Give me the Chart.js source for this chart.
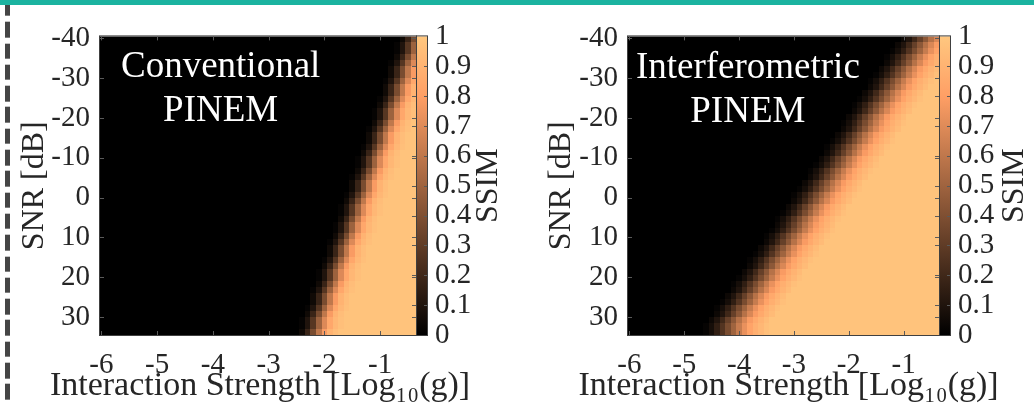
<!DOCTYPE html>
<html>
<head>
<meta charset="utf-8">
<title>SSIM maps</title>
<script src="https://cdn.jsdelivr.net/npm/chart.js@4.4.1/dist/chart.umd.min.js"></script>
<style>
  body { margin: 0; background: #fff; }
  #wrap { position: relative; width: 1034px; height: 405px; overflow: hidden; background: #fff; }
  #wrap canvas { position: absolute; top: 0; }
  #topBar { position: absolute; left: 0; top: 0; width: 1034px; height: 5px; background: #1bb3a0; z-index: 2; }
  #sep {
    position: absolute; left: 5px; top: 0; width: 5px; height: 405px; z-index: 1;
    background: repeating-linear-gradient(to bottom, #454545 0 15.5px, transparent 15.5px 21.3px);
    background-position: 0 0.7px;
  }
</style>
</head>
<body>
<div id="wrap">
  <canvas id="conventional" width="520" height="405" style="left:0"></canvas>
  <canvas id="interferometric" width="514" height="405" style="left:520px"></canvas>
  <div id="sep"></div>
  <div id="topBar"></div>
</div>
<script>
// columns: log10(g), rows: SNR in dB
const logG = [-6, -5.9, -5.8, -5.7, -5.6, -5.5, -5.4, -5.3, -5.2, -5.1,
  -5, -4.9, -4.8, -4.7, -4.6, -4.5, -4.4, -4.3, -4.2, -4.1,
  -4, -3.9, -3.8, -3.7, -3.6, -3.5, -3.4, -3.3, -3.2, -3.1,
  -3, -2.9, -2.8, -2.7, -2.6, -2.5, -2.4, -2.3, -2.2, -2.1,
  -2, -1.9, -1.8, -1.7, -1.6, -1.5, -1.4, -1.3, -1.2, -1.1,
  -1, -0.9, -0.8, -0.7, -0.6, -0.5, -0.4];
const snrRows = [-39.75, -38.25, -36.75, -35.25, -33.75, -32.25, -30.75, -29.25, -27.75, -26.25,
  -24.75, -23.25, -21.75, -20.25, -18.75, -17.25, -15.75, -14.25, -12.75, -11.25,
  -9.75, -8.25, -6.75, -5.25, -3.75, -2.25, -0.75, 0.75, 2.25, 3.75,
  5.25, 6.75, 8.25, 9.75, 11.25, 12.75, 14.25, 15.75, 17.25, 18.75,
  20.25, 21.75, 23.25, 24.75, 26.25, 27.75, 29.25, 30.75, 32.25, 33.75];

// per row: black cells from the left, then one of two edge ramps (SSIM in %),
// the rest of the row sits on the plateau
const convDark = [53, 53, 53, 52, 52, 51, 51, 51, 50, 50,
  50, 49, 49, 49, 48, 48, 47, 47, 47, 46,
  46, 46, 45, 45, 44, 44, 44, 43, 43, 43,
  42, 42, 42, 41, 41, 40, 40, 40, 39, 39,
  39, 38, 38, 37, 37, 37, 36, 36, 36, 35];
const convShape = 'ABBABAABAA' + 'BABBABAABA' + 'BBABAABABB' + 'ABBABAABAB' + 'BABAABABBA';
const convRampA = [0, 5, 18, 38, 60, 78, 90, 95];
const convRampB = [2, 10, 27, 49, 69, 84, 92, 96];

const interDark = [50, 49, 48, 47, 47, 46, 45, 44, 44, 43,
  42, 41, 41, 40, 39, 39, 38, 37, 36, 36,
  35, 34, 33, 33, 32, 31, 30, 30, 29, 28,
  27, 27, 26, 25, 25, 24, 23, 22, 22, 21,
  20, 19, 19, 18, 17, 16, 16, 15, 14, 14];
const interShape = 'AABBAABBAA' + 'BBAABAABBA' + 'ABBAABBAAB' + 'BABBAABBAA' + 'BBAABBAABB';
const interRampA = [4, 10, 20, 32, 44, 57, 68, 78, 85, 90, 94];
const interRampB = [2, 7, 15, 26, 38, 50, 62, 73, 82, 88, 92, 96];
const ssimPlateau = 98;

const xTicks = [-6, -5, -4, -3, -2, -1];
const yTicks = [-40, -30, -20, -10, 0, 10, 20, 30];
const cbTicks = [0, 0.1, 0.2, 0.3, 0.4, 0.5, 0.6, 0.7, 0.8, 0.9, 1];

const ink = '#262626';
const serif = "'Liberation Serif', 'DejaVu Serif', serif";
Chart.defaults.font.family = serif;
Chart.defaults.color = ink;

function copper(v) {
  const r = Math.min(1, 1.25 * v), g = 0.7812 * v, b = 0.4975 * v;
  return 'rgb(' + Math.round(r * 255) + ',' + Math.round(g * 255) + ',' + Math.round(b * 255) + ')';
}

function buildCells(dark, shape, rampA, rampB) {
  const cells = [];
  snrRows.forEach((snr, r) => {
    const ramp = shape[r] === 'A' ? rampA : rampB;
    logG.forEach((g, c) => {
      let v;
      if (c < dark[r]) v = 0;
      else if (c - dark[r] < ramp.length) v = ramp[c - dark[r]];
      else v = ssimPlateau;
      cells.push({ x: g, y: snr, v: v / 100 });
    });
  });
  return cells;
}

const halfX = (logG[1] - logG[0]) / 2;
const halfY = (snrRows[1] - snrRows[0]) / 2;

const heatPlugin = {
  id: 'heat',
  beforeDatasetsDraw(chart) {
    const { ctx, chartArea: a, scales: { x, y } } = chart;
    const cells = chart.data.datasets[0].data;
    ctx.save();
    ctx.beginPath();
    ctx.rect(a.left, a.top, a.width, a.height);
    ctx.clip();
    cells.forEach(d => {
      const x0 = Math.round(x.getPixelForValue(d.x - halfX));
      const x1 = Math.round(x.getPixelForValue(d.x + halfX));
      const y0 = Math.round(y.getPixelForValue(d.y - halfY));
      const y1 = Math.round(y.getPixelForValue(d.y + halfY));
      ctx.fillStyle = copper(d.v);
      ctx.fillRect(Math.min(x0, x1), Math.min(y0, y1), Math.abs(x1 - x0), Math.abs(y1 - y0));
    });
    ctx.restore();
  }
};

function decoPlugin(cfg) {
  return {
    id: 'deco',
    afterDatasetsDraw(chart) {
      const { ctx, chartArea: a, scales: { x, y, cb } } = chart;
      ctx.save();
      // panel name
      ctx.fillStyle = '#fff';
      ctx.font = '37px ' + serif;
      ctx.textAlign = 'center';
      ctx.textBaseline = 'alphabetic';
      cfg.lines.forEach((t, i) => {
        ctx.fillText(t, x.getPixelForValue(cfg.noteX), y.getPixelForValue(cfg.noteY[i]));
      });

      // colorbar
      const sx = a.right + 1, sw = 10;
      const cTop = cb.getPixelForValue(1), cBot = cb.getPixelForValue(0);
      const grad = ctx.createLinearGradient(0, cBot, 0, cTop);
      grad.addColorStop(0, copper(0));
      grad.addColorStop(0.8, copper(0.8));
      grad.addColorStop(1, copper(1));
      ctx.fillStyle = grad;
      ctx.fillRect(sx, cTop, sw, cBot - cTop);

      ctx.strokeStyle = '#404040';
      ctx.lineWidth = 1;
      ctx.strokeRect(a.left - 0.5, a.top - 0.5, a.width + 1, a.height + 1);
      ctx.strokeRect(sx - 0.5, cTop - 0.5, sw + 1, cBot - cTop + 1);

      // inward ticks
      ctx.strokeStyle = '#5a5a5a';
      ctx.beginPath();
      xTicks.forEach(v => {
        const px = Math.round(x.getPixelForValue(v)) + 0.5;
        ctx.moveTo(px, a.bottom); ctx.lineTo(px, a.bottom - 4);
        ctx.moveTo(px, a.top); ctx.lineTo(px, a.top + 4);
      });
      yTicks.forEach(v => {
        const py = Math.round(y.getPixelForValue(v)) + 0.5;
        ctx.moveTo(a.left, py); ctx.lineTo(a.left + 4, py);
        ctx.moveTo(a.right, py); ctx.lineTo(a.right - 4, py);
      });
      cbTicks.slice(1, -1).forEach(v => {
        const py = Math.round(cb.getPixelForValue(v)) + 0.5;
        ctx.moveTo(a.right, py); ctx.lineTo(a.right - 4, py);
        ctx.moveTo(sx + sw, py); ctx.lineTo(sx + sw - 3, py);
      });
      ctx.stroke();

      // x axis title (drawn here so it is not squeezed to the axis width)
      ctx.fillStyle = ink;
      ctx.font = '34px ' + serif;
      ctx.textAlign = 'center';
      ctx.textBaseline = 'alphabetic';
      ctx.fillText('Interaction Strength [Log₁₀(g)]', (a.left + a.right) / 2 + cfg.xTitleShift, a.bottom + 60);

      // colorbar label
      ctx.font = '32px ' + serif;
      ctx.textBaseline = 'middle';
      ctx.translate(sx + sw + cfg.ssimGap, (cTop + cBot) / 2);
      ctx.rotate(-Math.PI / 2);
      ctx.fillText('SSIM', 0, 0);
      ctx.restore();
    }
  };
}

function makePanel(id, cells, cfg) {
  return new Chart(document.getElementById(id), {
    type: 'scatter',
    data: { datasets: [{ data: cells, pointRadius: 0, pointHoverRadius: 0 }] },
    options: {
      responsive: false,
      animation: false,
      devicePixelRatio: 1,
      events: [],
      layout: { padding: { top: 24, left: 0, right: 0, bottom: 0 } },
      plugins: { legend: { display: false }, tooltip: { enabled: false } },
      scales: {
        x: {
          type: 'linear', position: 'bottom', min: -6.025, max: -0.355,
          afterBuildTicks: s => { s.ticks = xTicks.map(v => ({ value: v })); },
          afterFit: s => { s.height = 70; },
          grid: { display: false, drawTicks: false },
          border: { display: false },
          ticks: { padding: 13, autoSkip: false, maxRotation: 0, font: { size: 29 }, color: ink,
                   callback: v => String(v) }
        },
        y: {
          type: 'linear', position: 'left', reverse: true, min: -40.5, max: 34.5,
          afterBuildTicks: s => { s.ticks = yTicks.map(v => ({ value: v })); },
          afterFit: s => { s.width = cfg.yWidth; },
          grid: { display: false, drawTicks: false },
          border: { display: false },
          ticks: { padding: 10, autoSkip: false, font: { size: 29 }, color: ink,
                   callback: v => String(v) },
          title: { display: true, text: 'SNR [dB]', color: ink,
                   font: { size: 32 }, padding: { top: cfg.yTitlePad, bottom: 0 } }
        },
        cb: {
          type: 'linear', position: 'right', min: 0, max: 1,
          afterBuildTicks: s => { s.ticks = cbTicks.map(v => ({ value: v })); },
          afterFit: s => { s.width = cfg.cbWidth; },
          grid: { display: false, drawTicks: false },
          border: { display: false },
          ticks: { padding: 19, autoSkip: false, font: { size: 29 }, color: ink,
                   callback: v => String(v) }
        }
      }
    },
    plugins: [heatPlugin, decoPlugin(cfg)]
  });
}

makePanel('conventional', buildCells(convDark, convShape, convRampA, convRampB), {
  yWidth: 100, cbWidth: 104, yTitlePad: 15, ssimGap: 62, xTitleShift: 2,
  lines: ['Conventional', 'PINEM'], noteX: -3.86, noteY: [-30.2, -19.3]
});
makePanel('interferometric', buildCells(interDark, interShape, interRampA, interRampB), {
  yWidth: 108, cbWidth: 95, yTitlePad: 22, ssimGap: 65, xTitleShift: 5,
  lines: ['Interferometric', 'PINEM'], noteX: -3.84, noteY: [-30.0, -19.1]
});
</script>
</body>
</html>
